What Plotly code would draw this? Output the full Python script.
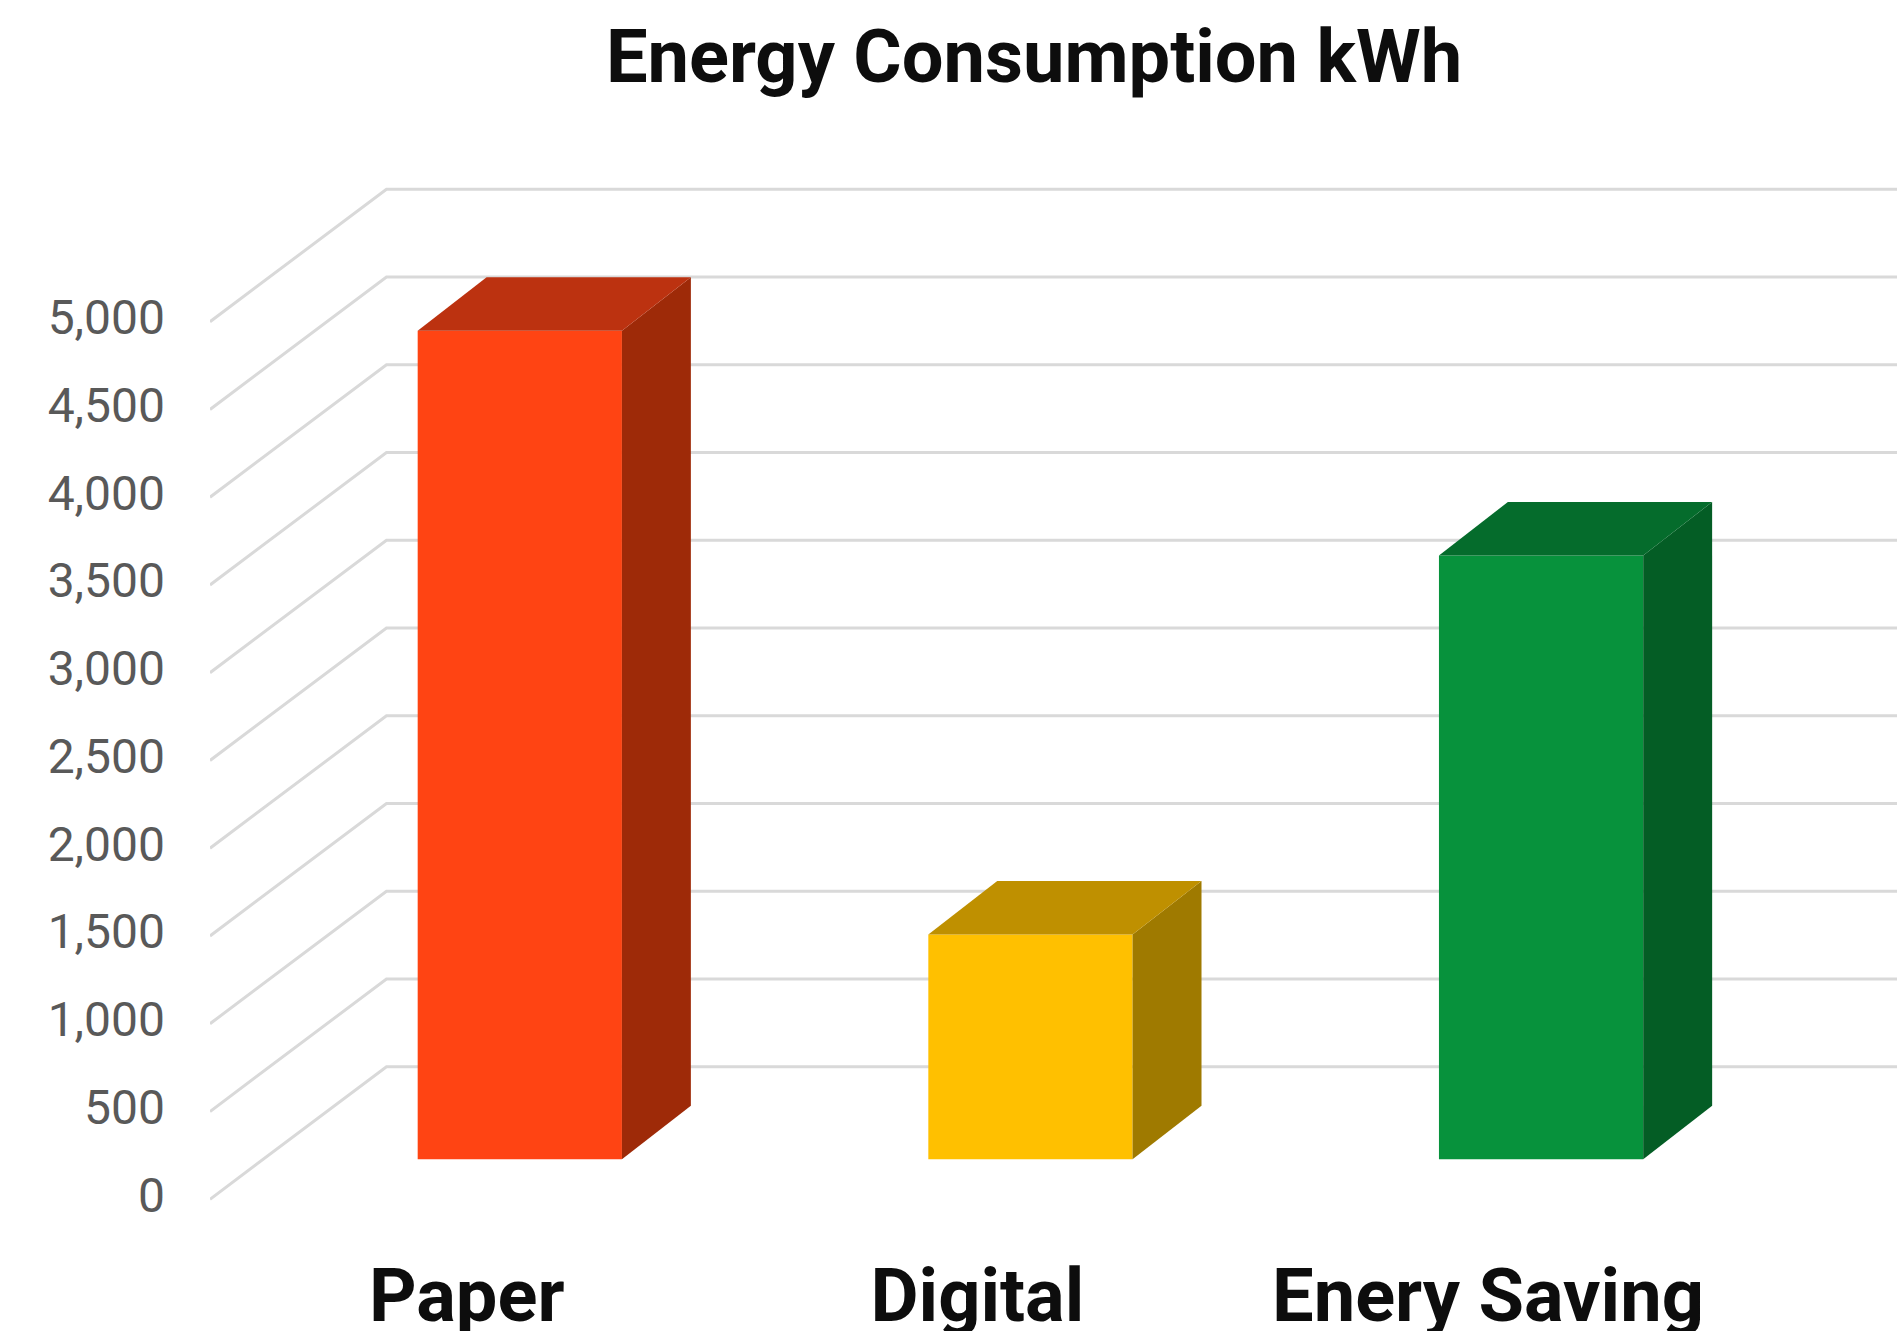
import plotly.graph_objects as go

# Energy use per scenario
categories = ["Paper", "Digital", "Enery Saving"]
energy_kwh = [4720, 1280, 3440]

front_colors = ["#FF4413", "#FFC000", "#07923C"]
side_colors = ["#9E2A08", "#9F7A00", "#045D25"]
top_colors = ["#BC3210", "#BF9000", "#056C2C"]

tick_values = [0, 500, 1000, 1500, 2000, 2500, 3000, 3500, 4000, 4500, 5000]
tick_labels = ["0", "500", "1,000", "1,500", "2,000", "2,500", "3,000", "3,500", "4,000", "4,500", "5,000"]

# Oblique projection, in axis units: how far each depth step shifts a point
BAR_WIDTH = 0.40
BAR_DX, BAR_DY = 0.135, 305
BAR_LIFT = 228
WALL_DX, WALL_DY = 0.3456, 755
X_START, X_END = -0.6067, 2.697
Y_START, Y_END = -266.3, 6833
LABEL_SHIFT = -0.104
TICK_LIFT = 25

GRID = "#D9D9D9"
FONT = "Roboto"

fig = go.Figure()

# Walls: each gridline runs back along the floor edge, then across the rear wall
for v in tick_values:
    fig.add_trace(go.Scatter(
        x=[X_START, X_START + WALL_DX, X_END],
        y=[v, v + WALL_DY, v + WALL_DY],
        mode="lines", line=dict(color=GRID, width=3),
        hoverinfo="skip", showlegend=False,
    ))

# Front faces of the columns sit on the overlaid axes, above the grid
fig.add_trace(go.Bar(
    x=list(range(len(categories))), y=energy_kwh, base=BAR_LIFT, width=BAR_WIDTH,
    marker=dict(color=front_colors, line=dict(width=0)),
    xaxis="x2", yaxis="y2", showlegend=False,
))

# Side and top faces derived from each value
for i, v in enumerate(energy_kwh):
    left, right = i - BAR_WIDTH / 2, i + BAR_WIDTH / 2
    low, high = BAR_LIFT, BAR_LIFT + v
    fig.add_trace(go.Scatter(
        x=[right, right + BAR_DX, right + BAR_DX, right, right],
        y=[low, low + BAR_DY, high + BAR_DY, high, low],
        mode="lines", fill="toself", fillcolor=side_colors[i], line=dict(width=0),
        xaxis="x2", yaxis="y2", hoverinfo="skip", showlegend=False,
    ))
    fig.add_trace(go.Scatter(
        x=[left, left + BAR_DX, right + BAR_DX, right, left],
        y=[high, high + BAR_DY, high + BAR_DY, high, high],
        mode="lines", fill="toself", fillcolor=top_colors[i], line=dict(width=0),
        xaxis="x2", yaxis="y2", hoverinfo="skip", showlegend=False,
    ))

fig.update_layout(
    width=1897, height=1331,
    margin=dict(l=210, r=0, t=0, b=85, autoexpand=False),
    paper_bgcolor="white", plot_bgcolor="white",
    title=dict(
        text="<b>Energy Consumption kWh</b>",
        x=1034 / 1897, xanchor="center", y=1 - 56 / 1331, yanchor="middle",
        font=dict(family=FONT, size=74, color="#0D0D0D"),
    ),
    xaxis=dict(
        range=[X_START, X_END], showgrid=False, zeroline=False, showline=False,
        tickmode="array",
        tickvals=[i + LABEL_SHIFT for i in range(len(categories))],
        ticktext=[f"<b>{c}</b>" for c in categories],
        tickfont=dict(family=FONT, size=74, color="#0D0D0D"),
        ticks="", ticklabelstandoff=0, fixedrange=True,
    ),
    yaxis=dict(
        range=[Y_START, Y_END], showgrid=False, zeroline=False, showline=False,
        tickmode="array", tickvals=[v + TICK_LIFT for v in tick_values], ticktext=tick_labels,
        tickfont=dict(family=FONT, size=48, color="#595959"),
        ticks="", ticklabelstandoff=44, fixedrange=True,
    ),
    xaxis2=dict(range=[X_START, X_END], overlaying="x", visible=False, fixedrange=True),
    yaxis2=dict(range=[Y_START, Y_END], overlaying="y", visible=False, fixedrange=True),
)

fig.write_html("out.html")
